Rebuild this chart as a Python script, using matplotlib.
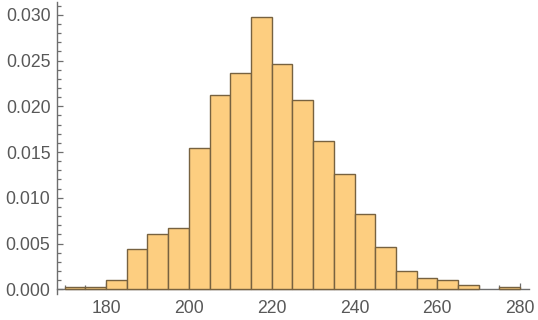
import numpy as np
import matplotlib
matplotlib.use("Agg")
import matplotlib.pyplot as plt
from matplotlib.ticker import MultipleLocator, FormatStrFormatter

# Histogram bins (width 5) and density values
bin_edges = list(range(170, 285, 5))
densities = [0.00025, 0.00025, 0.00098, 0.00437, 0.0060, 0.00666,
             0.0154, 0.0212, 0.0236, 0.0298, 0.02458, 0.02065,
             0.01617, 0.01256, 0.0082, 0.00459, 0.00197, 0.0012,
             0.00098, 0.00044, 0.0, 0.00022]
x_ticks = [180, 200, 220, 240, 260, 280]
y_ticks = [0.000, 0.005, 0.010, 0.015, 0.020, 0.025, 0.030]

plt.rcParams['font.family'] = ['Liberation Sans', 'DejaVu Sans']

W, H = 538, 320
fig = plt.figure(figsize=(W / 100, H / 100), dpi=100)
left, right = 56.7, 529.3
top, bottom = 2.0, 293.5
ax = fig.add_axes([left / W, 1 - bottom / H, (right - left) / W, (bottom - top) / H])

lefts = bin_edges[:-1]
widths = np.diff(bin_edges)
nonzero = [i for i, d in enumerate(densities) if d > 0]
ax.bar([lefts[i] for i in nonzero], [densities[i] for i in nonzero],
       width=[widths[i] for i in nonzero], align='edge',
       color='#FDCE80', edgecolor='#776240', linewidth=1.0, zorder=3)

ax.set_xlim(168.1, 282.2)
ax.set_ylim(-0.00046, 0.0314)

axis_col = '#6E6E6E'
for s in ['top', 'right']:
    ax.spines[s].set_visible(False)
ax.spines['bottom'].set_position(('data', 0))
ax.spines['bottom'].set_color(axis_col)
ax.spines['left'].set_color(axis_col)
ax.spines['bottom'].set_linewidth(1.0)
ax.spines['left'].set_linewidth(1.0)

ax.set_xticks(x_ticks)
ax.xaxis.set_minor_locator(MultipleLocator(5))
ax.set_yticks(y_ticks)
ax.yaxis.set_major_formatter(FormatStrFormatter('%.3f'))
ax.yaxis.set_minor_locator(MultipleLocator(0.001))

ax.tick_params(axis='both', which='both', direction='in', color=axis_col,
               labelcolor='#585858', labelsize=12.7, width=0.9)
ax.tick_params(axis='both', which='major', length=4.5)
ax.tick_params(axis='both', which='minor', length=3)
ax.tick_params(axis='y', which='major', pad=4.5)
ax.tick_params(axis='x', which='major', pad=7.5)

fig.savefig('out.png', dpi=100)
